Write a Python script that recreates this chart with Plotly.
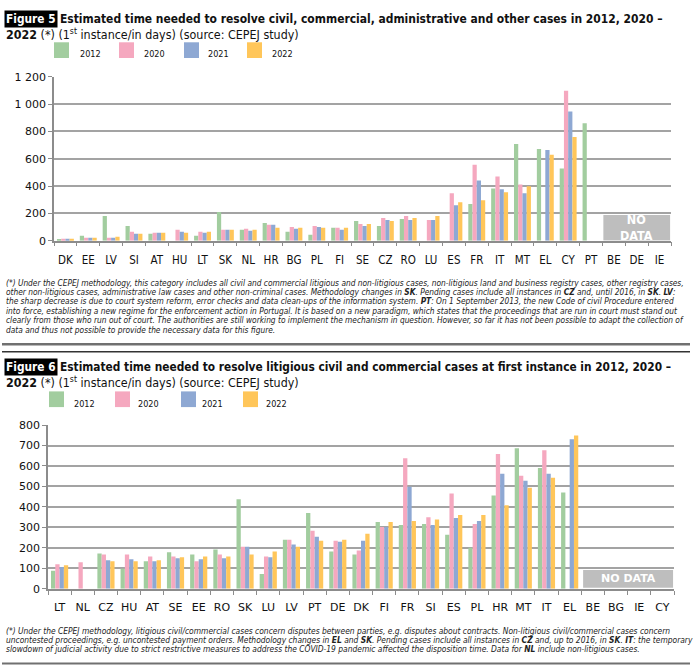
import plotly.graph_objects as go

# ---------------- DATA ----------------
years = ["2012", "2020", "2021", "2022"]

cats5 = ["DK", "EE", "LV", "SI", "AT", "HU", "LT", "SK", "NL", "HR", "BG", "PL", "FI", "SE",
         "CZ", "RO", "LU", "ES", "FR", "IT", "MT", "EL", "CY", "PT", "BE", "DE", "IE"]
f5_2012 = [7, 36, 181, 108, 51, None, 36, 210, 80, 130, 65, 43, 94, 145,
           108, 159, None, None, 268, 383, 709, 672, 528, 860, None, None, None]
f5_2020 = [14, 22, 22, 65, 58, 80, 65, 80, 87, 116, 101, 108, 94, 123,
           166, 181, 152, 347, 557, 470, 412, None, 1099, None, None, None, None]
f5_2021 = [14, 22, 22, 51, 58, 65, 58, 80, 72, 116, 87, 101, 80, 108,
           152, 152, 152, 260, 441, 376, 347, 665, 947, None, None, None, None]
f5_2022 = [14, 22, 29, 51, 58, 58, 65, 80, 80, 94, 94, 94, 94, 123,
           145, 166, 181, 282, 296, 354, 398, 629, 759, None, None, None, None]
f5_nodata = ["BE", "DE", "IE"]
f5_ticks = [0, 200, 400, 600, 800, 1000, 1200]
f5_ticktext = ["0", "200", "400", "600", "800", "1 000", "1 200"]

cats6 = ["LT", "NL", "CZ", "HU", "AT", "SE", "EE", "RO", "SK", "LU", "LV", "PT", "DE", "DK",
         "FI", "FR", "SI", "ES", "PL", "HR", "MT", "IT", "EL", "BE", "BG", "IE", "CY"]
f6_2012 = [88, None, 173, 98, 134, 178, 168, 192, 437, 72, 240, 370, 182, 168,
           326, 312, 317, 264, 200, 456, 686, 590, 470, None, None, None, None]
f6_2020 = [120, 130, 168, 168, 158, 158, 134, 168, 206, 158, 240, 283, 235, 187,
           302, 638, 350, 466, 317, 658, 552, 677, None, None, None, None, None]
f6_2021 = [106, None, 139, 144, 134, 149, 144, 149, 206, 154, 216, 254, 230, 235,
           302, 499, 312, 346, 331, 562, 528, 562, 730, None, None, None, None]
f6_2022 = [115, None, 134, 134, 139, 154, 158, 158, 168, 182, 206, 235, 240, 269,
           326, 331, 338, 360, 360, 408, 494, 542, 749, None, None, None, None]
f6_nodata = ["BE", "BG", "IE", "CY"]
f6_ticks = [0, 100, 200, 300, 400, 500, 600, 700, 800]

colors = ["#A2CD9F", "#F5A8BF", "#8EA8D3", "#FFC65A"]

W, H = 698, 672
def px(x): return x / W
def py(y): return 1 - y / H

NARROW = "Liberation Sans Narrow, DejaVu Sans Condensed, Arial Narrow, sans-serif"
TICKF = "DejaVu Sans, Verdana, sans-serif"

fig = go.Figure()
for yr, vals, c in zip(years, [f5_2012, f5_2020, f5_2021, f5_2022], colors):
    fig.add_trace(go.Bar(x=cats5, y=vals, name=yr, marker=dict(color=c, line=dict(width=0)),
                         xaxis="x", yaxis="y", showlegend=False))
for yr, vals, c in zip(years, [f6_2012, f6_2020, f6_2021, f6_2022], colors):
    fig.add_trace(go.Bar(x=cats6, y=vals, name=yr, marker=dict(color=c, line=dict(width=0)),
                         xaxis="x2", yaxis="y2", showlegend=False))

axis_gray = "#8C8C8C"
grid_gray = "#A3A3A3"

common_x = dict(type="category", showline=True, linecolor=axis_gray, linewidth=1.5,
                ticks="outside", tickson="boundaries", ticklen=4, tickcolor=axis_gray,
                showgrid=False, fixedrange=True, tickangle=0)
common_y = dict(showgrid=True, gridcolor=grid_gray, gridwidth=1.6, showline=True,
                linecolor=axis_gray, linewidth=1.5, ticks="outside", ticklen=4,
                tickcolor=axis_gray, zeroline=False, fixedrange=True,
                tickfont=dict(family=TICKF, size=11, color="#111"))

fig.update_layout(
    width=W, height=H, margin=dict(l=0, r=0, t=0, b=0),
    paper_bgcolor="white", plot_bgcolor="white",
    barmode="group", bargap=0.26, bargroupgap=0,
    showlegend=False,
    xaxis=dict(common_x, domain=[px(54), px(671)], anchor="y",
               tickfont=dict(family=NARROW, size=11.5, color="#111"), ticklabelstandoff=8,
               categoryorder="array", categoryarray=cats5),
    yaxis=dict(common_y, domain=[py(239.3), py(72.3)], anchor="x", range=[0, 1200],
               tickvals=f5_ticks, ticktext=f5_ticktext),
    xaxis2=dict(common_x, domain=[px(48), px(674)], anchor="y2",
                tickfont=dict(family=TICKF, size=11, color="#111"), ticklabelstandoff=7,
                categoryorder="array", categoryarray=cats6),
    yaxis2=dict(common_y, domain=[py(594.3), py(427.3)], anchor="x2", range=[0, 800],
                tickvals=f6_ticks),
)

shapes = []
annos = []

# NO DATA boxes
i0, i1 = cats5.index(f5_nodata[0]), cats5.index(f5_nodata[-1])
shapes.append(dict(type="rect", xref="x", yref="y", x0=i0 - 0.46, x1=i1 + 0.46, y0=2, y1=188,
                   fillcolor="#BEBEBE", line=dict(width=0), layer="above"))
annos.append(dict(xref="x", yref="y", x=(i0 + i1) / 2, y=95, text="<b>NO<br>DATA</b>",
                  showarrow=False, font=dict(family=NARROW, size=12.5, color="white")))
j0, j1 = cats6.index(f6_nodata[0]), cats6.index(f6_nodata[-1])
shapes.append(dict(type="rect", xref="x2", yref="y2", x0=j0 - 0.42, x1=j1 + 0.46, y0=5, y1=92,
                   fillcolor="#BEBEBE", line=dict(width=0), layer="above"))
annos.append(dict(xref="x2", yref="y2", x=(j0 + j1) / 2 + 0.02, y=48, text="<b>NO DATA</b>",
                  showarrow=False, font=dict(family=TICKF, size=11, color="white")))

# Titles
def label_box(text, y):
    annos.append(dict(xref="paper", yref="paper", x=px(4), y=py(y), xanchor="left", yanchor="middle",
                      text="<b>" + text + "</b>", showarrow=False, bgcolor="black", borderpad=1,
                      font=dict(family=NARROW, size=11.8, color="white")))

def text_at(text, x, y, size, italic=False, color="#111", family=NARROW):
    annos.append(dict(xref="paper", yref="paper", x=px(x), y=py(y), xanchor="left", yanchor="middle",
                      text=text, showarrow=False, align="left",
                      font=dict(family=family, size=size, color=color,
                                style="italic" if italic else "normal")))

label_box("Figure 5", 13.5)
text_at("<b>Estimated time needed to resolve civil, commercial, administrative and other cases in 2012, 2020 –</b>",
        58, 13.5, 11.95)
text_at("<b>2022</b> (*) (1<sup>st</sup> instance/in days) (source: CEPEJ study)", 4, 29, 12.4)

label_box("Figure 6", 368)
text_at("<b>Estimated time needed to resolve litigious civil and commercial cases at first instance in 2012, 2020 –</b>",
        58, 368, 11.8)
text_at("<b>2022</b> (*) (1<sup>st</sup> instance/in days) (source: CEPEJ study)", 4, 383.5, 12.4)

# Custom legends
def legend(xs, lxs, y0, y1, ly):
    for k in range(4):
        shapes.append(dict(type="rect", xref="paper", yref="paper", x0=px(xs[k]), x1=px(xs[k] + 15),
                           y0=py(y1), y1=py(y0), fillcolor=colors[k], line=dict(width=0)))
        text_at(years[k], lxs[k], ly, 9)

legend([54, 119, 184, 247], [78, 142, 206, 270], 37, 53, 49)
legend([49, 115, 181, 243], [72, 136, 200, 264], 393, 409, 406)

# Footnotes
fn5 = [
    "(*) Under the CEPEJ methodology, this category includes all civil and commercial litigious and non-litigious cases, non-litigious land and business registry cases, other registry cases,",
    "other non-litigious cases, administrative law cases and other non-criminal cases. Methodology changes in <b>SK</b>. Pending cases include all instances in <b>CZ</b> and, until 2016, in <b>SK</b>. <b>LV</b>:",
    "the sharp decrease is due to court system reform, error checks and data clean-ups of the information system. <b>PT</b>: On 1 September 2013, the new Code of civil Procedure entered",
    "into force, establishing a new regime for the enforcement action in Portugal. It is based on a new paradigm, which states that the proceedings that are run in court must stand out",
    "clearly from those who run out of court. The authorities are still working to implement the mechanism in question. However, so far it has not been possible to adapt the collection of",
    "data and thus not possible to provide the necessary data for this figure.",
]
for k, line in enumerate(fn5):
    text_at(line, 4, 282 + k * 9.6, 8.3, italic=True, color="#222")

fn6 = [
    "(*) Under the CEPEJ methodology, litigious civil/commercial cases concern disputes between parties, e.g. disputes about contracts. Non-litigious civil/commercial cases concern",
    "uncontested proceedings, e.g. uncontested payment orders. Methodology changes in <b>EL</b> and <b>SK</b>. Pending cases include all instances in <b>CZ</b> and, up to 2016, in <b>SK</b>. <b>IT</b>: the temporary",
    "slowdown of judicial activity due to strict restrictive measures to address the COVID-19 pandemic affected the disposition time. Data for <b>NL</b> include non-litigious cases.",
]
for k, line in enumerate(fn6):
    text_at(line, 4, 637 + k * 9.2, 8.4, italic=True, color="#222")

# Separator lines
for yy, wdt, col in [(345, 2.5, "#707070"), (352.5, 1.5, "#333"), (670.5, 2.0, "#707070")]:
    shapes.append(dict(type="line", xref="paper", yref="paper", x0=px(2), x1=px(690),
                       y0=py(yy), y1=py(yy), line=dict(color=col, width=wdt)))

fig.update_layout(shapes=shapes, annotations=annos)
fig.write_html("out.html")
